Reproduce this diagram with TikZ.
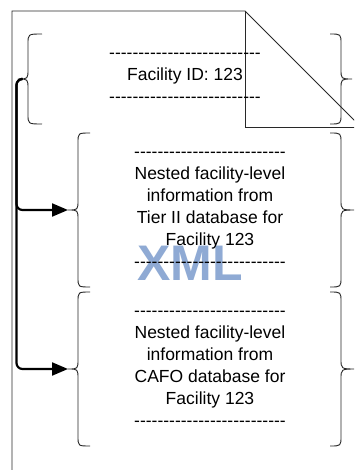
\documentclass[tikz,border=0pt]{standalone}
\usepackage{fontspec}
\setmainfont{Liberation Sans}
\usetikzlibrary{arrows.meta}
\definecolor{xmlblue}{RGB}{143,170,212}
\definecolor{pageline}{RGB}{40,40,40}
% a row of hyphens, kept apart so they never merge into dashes
\newcommand\hyrow{-{}-{}-{}-{}-{}-{}-{}-{}-{}-{}-{}-{}-{}-{}-{}-{}-{}-{}-{}-{}-{}-{}-{}-{}-{}-{}}
% curly bracket: #1 end x, #2 stem x, #3 tip x, #4 top y, #5 bottom y
\newcommand\curlybr[5]{%
  \pgfmathsetmacro\bmid{(#4+#5)/2}%
  \draw[brace] (#1,#4) .. controls (#2,#4) .. (#2,#4+10) -- (#2,\bmid-10)
    .. controls (#2,\bmid) .. (#3,\bmid) .. controls (#2,\bmid) .. (#2,\bmid+10)
    -- (#2,#5-10) .. controls (#2,#5) .. (#1,#5);%
}
\begin{document}
\begin{tikzpicture}[x=1pt,y=-1pt,
  brace/.style={draw=black!85, line width=0.9pt},
  page/.style={draw=pageline, line width=0.9pt},
  conn/.style={draw=black, line width=2.2pt, rounded corners=6pt,
    -{Triangle[length=16pt,width=13pt]}},
  txt/.style={align=center, inner sep=0pt,
    font=\fontsize{17.5}{22}\selectfont},
  watermark/.style={text=xmlblue, inner sep=0pt,
    font=\fontsize{50}{50}\selectfont\bfseries}]
\useasboundingbox (0,0) rectangle (354,470);
\clip (0,0) rectangle (354,470);
\fill[white] (0,0) rectangle (354,470);

% watermark behind the content
\node[watermark] (xml) at (190,263) {XML};

% page sheet with folded corner
\draw[page] (12,480) -- (12,11) -- (245,11) -- (361,127);
\draw[page] (245,11) -- (245,127) -- (361,127);

% brackets round each record
\curlybr{42}{28}{18}{34}{124}
\curlybr{330}{341}{352}{34}{124}
\curlybr{90}{78}{68}{133}{287}
\curlybr{330}{341}{356}{133}{287}
\curlybr{90}{78}{68}{292}{446}
\curlybr{330}{341}{356}{292}{446}

% record texts
\node[txt] (rec0) at (185,78) {\hyrow\\Facility ID: 123\\\hyrow};
\node[txt] (rec1) at (210,210) {\hyrow\\Nested facility-level\\information from\\Tier II database for\\Facility 123\\\hyrow};
\node[txt] (rec2) at (210,369) {\hyrow\\Nested facility-level\\information from\\CAFO database for\\Facility 123\\\hyrow};

% connectors from the facility record to the nested records
\coordinate (tipA) at (21,79);
\coordinate (tipB) at (68,210);
\coordinate (tipC) at (68,369);
\draw[conn] (tipA) -- ++(-4.5,0) |- (tipB);
\draw[conn] (tipA) -- ++(-4.5,0) |- (tipC);
\end{tikzpicture}
\end{document}
